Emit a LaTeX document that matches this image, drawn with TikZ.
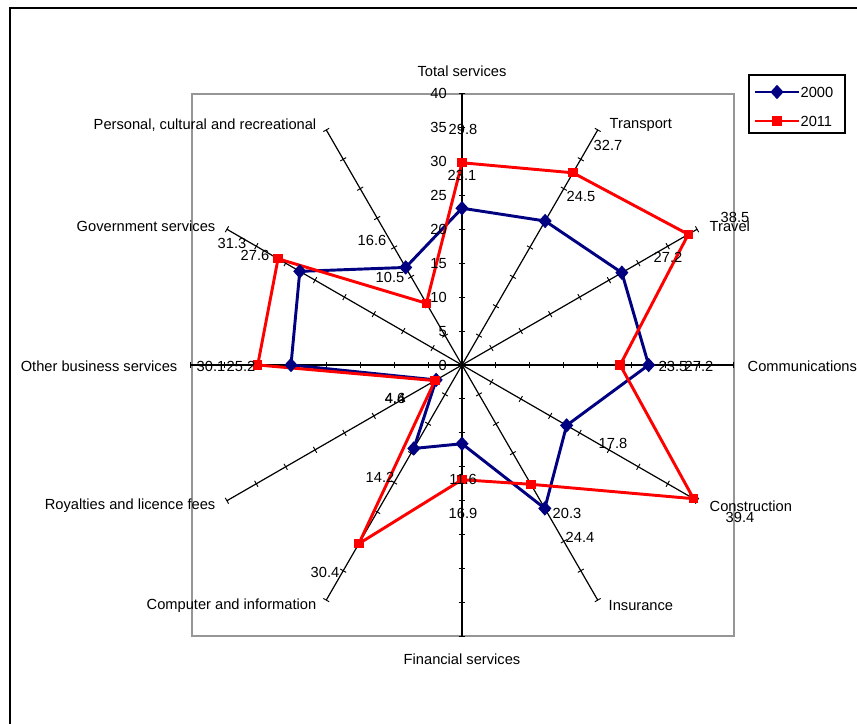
\documentclass[tikz,border=0pt]{standalone}
\usepackage{fontspec}
\setmainfont{Liberation Sans}
\usetikzlibrary{shapes.geometric}
\definecolor{navy2000}{RGB}{0,0,128}
\definecolor{plotgray}{RGB}{150,150,150}
\tikzset{
  serie2000/.style={draw=navy2000,line width=2.2pt,line join=round},
  serie2011/.style={draw=red,line width=2.2pt,line join=round},
  mark2000/.style={diamond,fill=navy2000,inner sep=0pt,minimum width=10pt,minimum height=11pt},
  mark2011/.style={rectangle,fill=red,inner sep=0pt,minimum size=7pt},
  radaraxis/.style={draw,line width=0.9pt},
  radartick/.style={draw,line width=0.7pt}
}

\begin{document}
\begin{tikzpicture}[x=0.75pt,y=-0.75pt,every node/.style={text centered,font=\fontsize{11}{13}\selectfont}]

\useasboundingbox (0,0) rectangle (857,724);
\path [draw,line width=1.5pt] (10,724) -- (10,8) -- (857,8);
\path [draw,line width=1.5pt,color=plotgray] (192,94) rectangle (734,636);

\begin{scope}[shift={(462,365)},x=5.09pt,y=5.09pt]
% axes with ticks
\foreach \a in {90,60,...,-240}
{
  \path [radaraxis,rotate=\a] (0,0) -- (40,0);
  \foreach \k in {5,10,...,40}
    \path [radartick,rotate=\a] (\k,-0.5) -- (\k,0.5);
}

\path [serie2000] (90:23.1) -- (60:24.5) -- (30:27.2) -- (0:27.5) -- (-30:17.8) -- (-60:24.4) -- (-90:11.6) -- (-120:14.2) -- (-150:4.4) -- (180:25.2) -- (150:27.6) -- (120:16.6) -- cycle;
\path [serie2011] (90:29.8) -- (60:32.7) -- (30:38.5) -- (0:23.3) -- (-30:39.4) -- (-60:20.3) -- (-90:16.9) -- (-120:30.4) -- (-150:4.6) -- (180:30.1) -- (150:31.3) -- (120:10.5) -- cycle;

\foreach \a/\v [count=\i] in {90/23.1,60/24.5,30/27.2,0/27.5,-30/17.8,-60/24.4,-90/11.6,-120/14.2,-150/4.4,180/25.2,150/27.6,120/16.6}
  \node [mark2000] (pa\i) at (\a:\v) {};
\foreach \a/\v [count=\i] in {90/29.8,60/32.7,30/38.5,0/23.3,-30/39.4,-60/20.3,-90/16.9,-120/30.4,-150/4.6,180/30.1,150/31.3,120/10.5}
  \node [mark2011] (pb\i) at (\a:\v) {};
\end{scope}

% scale on the total services axis
\foreach \k in {0,5,...,40}
  \node [anchor=east,inner sep=0pt] (scale\k) at (447,{365-6.79*\k}) {\k};

% categories
\node (total) at (462,71) {Total services};
\node [anchor=west] (transport) at (605,125) {Transport};
\node [anchor=west] (travel) at (705,226) {Travel};
\node [anchor=west] (comm) at (743,366) {Communications};
\node [anchor=west] (constr) at (705,506) {Construction};
\node [anchor=west] (insur) at (604,606) {Insurance};
\node (financ) at (462,659) {Financial services};
\node [anchor=east] (comput) at (321,606) {Computer and information};
\node [anchor=east] (royal) at (220,506) {Royalties and licence fees};
\node [anchor=east] (other) at (182,366) {Other business services};
\node [anchor=east] (govern) at (220,226) {Government services};
\node [anchor=east] (person) at (321,125) {Personal, cultural and recreational};

% data labels 2000
\node (la1) at (462,175) {23.1};
\node (la2) at (581,196) {24.5};
\node (la3) at (668,257) {27.2};
\node (la4) at (699,366) {27.2};
\node (la5) at (613,443) {17.8};
\node (la6) at (580,537) {24.4};
\node (la7) at (463,479) {11.6};
\node (la8) at (380,477) {14.2};
\node (la9) at (395,398) {4.4};
\node (la10) at (241,366) {25.2};
\node (la11) at (255,255) {27.6};
\node (la12) at (372,240) {16.6};

% data labels 2011
\node (lb1) at (463,129) {29.8};
\node (lb2) at (608,145) {32.7};
\node (lb3) at (735,217) {38.5};
\node (lb4) at (673,366) {23.5};
\node (lb5) at (740,517) {39.4};
\node (lb6) at (567,513) {20.3};
\node (lb7) at (463,513) {16.9};
\node (lb8) at (325,572) {30.4};
\node (lb9) at (395,398) {4.6};
\node (lb10) at (211,366) {30.1};
\node (lb11) at (232,243) {31.3};
\node (lb12) at (390,277) {10.5};

% legend
\path [draw,line width=0.8pt] (749,75) rectangle (845,133);
\coordinate (ka) at (755,92);
\coordinate (kb) at (755,121);
\node [anchor=west,inner sep=1pt] (leg2000) at (799,92) {2000};
\node [anchor=west,inner sep=1pt] (leg2011) at (799,121) {2011};
\path [serie2000] (ka) -- (leg2000.west);
\path [serie2011] (kb) -- (leg2011.west);
\node [mark2000] (legma) at (777,92) {};
\node [mark2011] (legmb) at (777,121) {};

\end{tikzpicture}
\end{document}
